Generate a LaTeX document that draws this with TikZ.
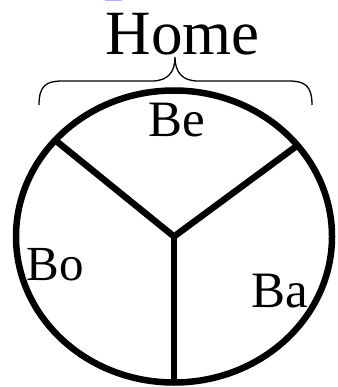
\documentclass[tikz,border=0pt]{standalone}
\usepackage{fontspec}
\setmainfont{Liberation Serif}
\definecolor{tinyblue}{RGB}{175,175,250}
\tikzset{
  lbl/.style={anchor=base,inner sep=0pt,font=\fontsize{50}{50}\selectfont},
  heavy/.style={line width=6.5pt,line cap=butt},
  bracestyle/.style={line width=1.3pt}
}
\begin{document}
\begin{tikzpicture}[x=1pt,y=-1pt]
\useasboundingbox (0,0) rectangle (337,387);
\fill[tinyblue] (105,0) rectangle (122,1.5);
% ellipse and dividers
\coordinate (c) at (174,236.5);
\coordinate (ul) at (55,140);
\coordinate (ur) at (298,145);
\coordinate (bt) at (174,382.5);
\draw[heavy] (c) ellipse [x radius=158, y radius=146];
\draw[heavy] (ul) -- (c) -- (ur);
\draw[heavy] (c) -- (bt);
% brace
\coordinate (bl) at (39,105);
\coordinate (br) at (312,105);
\coordinate (tip) at (175,57);
\draw[bracestyle] (bl) .. controls (39,86) and (46,81) .. (62,81) -- (152,81)
  .. controls (168,81) and (175,72) .. (tip)
  .. controls (175,72) and (182,81) .. (198,81) -- (289,81)
  .. controls (305,81) and (312,86) .. (br);
% labels
\node[lbl,font=\fontsize{63}{63}\selectfont] (home) at (182.5,55) {Home};
\node[lbl,font=\fontsize{51}{51}\selectfont] (be) at (176.5,137) {Be};
\node[lbl,font=\fontsize{49}{49}\selectfont] (bo) at (55,280) {Bo};
\node[lbl,font=\fontsize{51}{51}\selectfont] (ba) at (279.5,307) {Ba};
\end{tikzpicture}
\end{document}
